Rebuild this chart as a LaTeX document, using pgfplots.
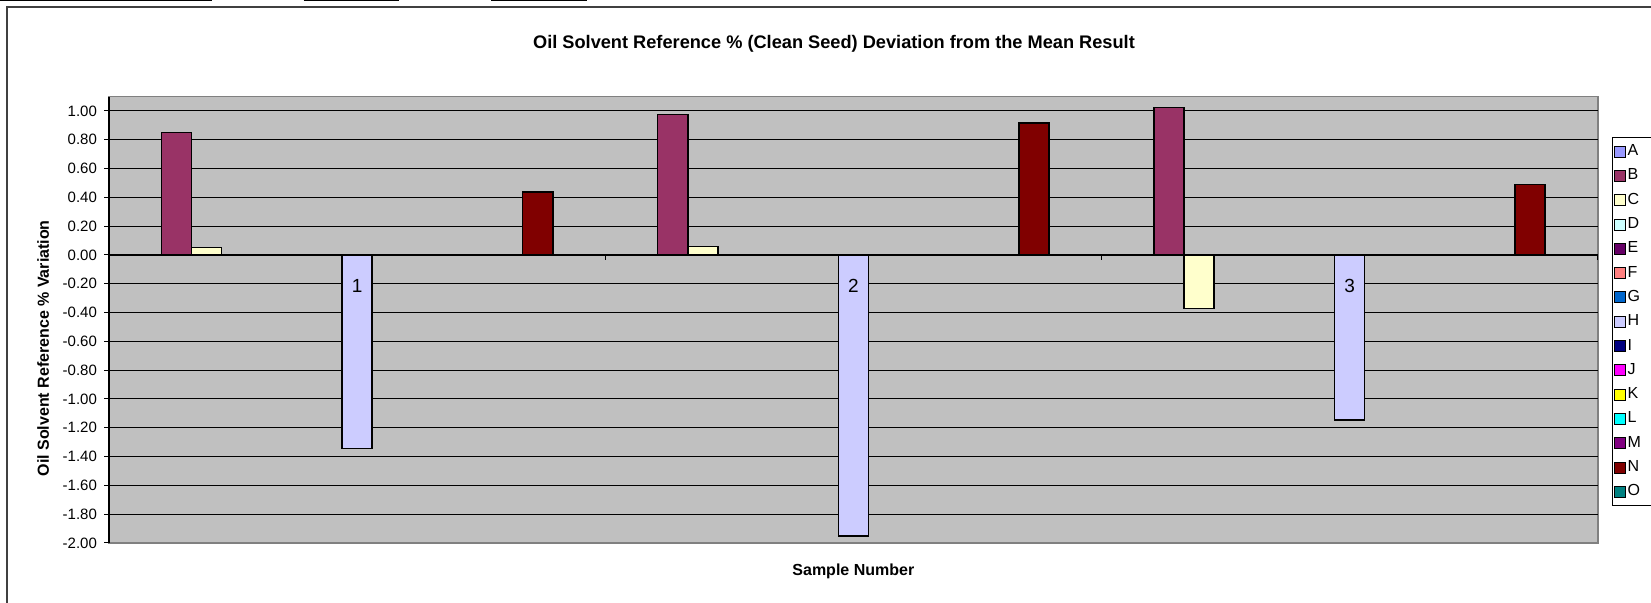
\documentclass[border=0pt]{standalone}
\usepackage{fontspec}
\setmainfont{Liberation Sans}
\usepackage{pgfplots}
\pgfplotsset{compat=1.18}
\definecolor{cA}{HTML}{9999FF}
\definecolor{cB}{HTML}{993366}
\definecolor{cC}{HTML}{FFFFCC}
\definecolor{cD}{HTML}{CCFFFF}
\definecolor{cE}{HTML}{660066}
\definecolor{cF}{HTML}{FF8080}
\definecolor{cG}{HTML}{0066CC}
\definecolor{cH}{HTML}{CCCCFF}
\definecolor{cI}{HTML}{000080}
\definecolor{cJ}{HTML}{FF00FF}
\definecolor{cK}{HTML}{FFFF00}
\definecolor{cL}{HTML}{00FFFF}
\definecolor{cM}{HTML}{800080}
\definecolor{cN}{HTML}{800000}
\definecolor{cO}{HTML}{008080}
\definecolor{plotgray}{HTML}{C0C0C0}
\definecolor{plotborder}{HTML}{808080}
\pgfplotsset{layers/mylayers/.define layer set={axis background,axis grid,axis ticks,pre main,main,axis lines,axis tick labels,axis descriptions,axis foreground}{ticklabel style={/pgfplots/on layer=axis tick labels}}}
\begin{document}
\begin{tikzpicture}
\draw[black!75, line width=1pt] (3.5pt,-5pt) -- (3.5pt,298.15pt) -- (840pt,298.15pt);
\draw[black, line width=0.6pt] (0pt,301.1pt) -- (105.8pt,301.1pt);
\draw[black, line width=0.6pt] (151.75pt,301.1pt) -- (199.5pt,301.1pt);
\draw[black, line width=0.6pt] (245.5pt,301.1pt) -- (293.35pt,301.1pt);
\begin{axis}[
  set layers=mylayers,
  at={(54.5pt,30pt)}, anchor=south west,
  scale only axis, width=744.35pt, height=223.2pt,
  xmin=-0.5, xmax=2.5, ymin=-2, ymax=1.1,
  axis x line=middle, axis y line=left,
  axis line style={-},
  x axis line style={black, line width=0.8pt},
  y axis line style={black, line width=0.6pt},
  axis background/.style={fill=plotgray, draw=plotborder, line width=0.8pt},
  ytick={-1.8,-1.6,-1.4,-1.2,-1,-0.8,-0.6,-0.4,-0.2,0,0.2,0.4,0.6,0.8,1},
  yticklabels={-1.80,-1.60,-1.40,-1.20,-1.00,-0.80,-0.60,-0.40,-0.20,0.00,0.20,0.40,0.60,0.80,1.00},
  extra y ticks={-2}, extra y tick labels={-2.00},
  extra y tick style={grid=none},
  ymajorgrids, grid style={black, line width=0.5pt},
  tick align=outside, major tick length=2.5pt, minor tick length=2.5pt,
  tick style={black, line width=0.5pt},
  hide obscured x ticks=false,
  xtick={0,1,2}, xticklabels={1,2,3},
  minor xtick={-0.5,0.5,1.5,2.5},
  xticklabel style={font=\fontsize{9.5}{11}\selectfont, anchor=center, yshift=-12.8pt},
  yticklabel style={font=\fontsize{7.5}{9}\selectfont},
  title={Oil Solvent Reference \% (Clean Seed) Deviation from the Mean Result},
  title style={at={(axis description cs:0.487,1.091)}, anchor=center, font=\bfseries\fontsize{9.1}{11}\selectfont},
  xlabel={Sample Number},
  ylabel={Oil Solvent Reference \% Variation},
  every axis x label/.style={at={(axis description cs:0.5,-0.0643)}, anchor=center, font=\bfseries\fontsize{8}{10}\selectfont},
  every axis y label/.style={at={(axis description cs:-0.0443,0.436)}, anchor=center, rotate=90, font=\bfseries\fontsize{8}{10}\selectfont},
  legend style={at={(axis description cs:1.0096,0.9095)}, anchor=north west, draw=black, line width=0.5pt, fill=white,
    inner sep=1pt, row sep=0pt,
    nodes={inner sep=0.6pt, minimum height=12.15pt, font=\fontsize{8}{9.5}\selectfont}},
  legend cell align=left,
  legend image code/.code={\draw[#1, line width=0.5pt] (0pt,-2.75pt) rectangle (5.5pt,2.75pt);},
]
\addplot[ybar, bar width=15.05pt, bar shift=-90.3pt, fill=cB, draw=black, line width=0.75pt, forget plot]
  coordinates {(0,0.852) (1,0.977) (2,1.026)};
\addplot[ybar, bar width=15.05pt, bar shift=-75.25pt, fill=cC, draw=black, line width=0.75pt, forget plot]
  coordinates {(0,0.051) (1,0.058) (2,-0.371)};
\addplot[ybar, bar width=15.05pt, bar shift=0pt, fill=cH, draw=black, line width=0.75pt, forget plot]
  coordinates {(0,-1.345) (1,-1.951) (2,-1.146)};
\addplot[ybar, bar width=15.05pt, bar shift=90.3pt, fill=cN, draw=black, line width=0.75pt, forget plot]
  coordinates {(0,0.437) (1,0.915) (2,0.488)};
\addlegendimage{fill=cA, draw=black}\addlegendentry{\makebox[22pt][l]{A}}
\addlegendimage{fill=cB, draw=black}\addlegendentry{B}
\addlegendimage{fill=cC, draw=black}\addlegendentry{C}
\addlegendimage{fill=cD, draw=black}\addlegendentry{D}
\addlegendimage{fill=cE, draw=black}\addlegendentry{E}
\addlegendimage{fill=cF, draw=black}\addlegendentry{F}
\addlegendimage{fill=cG, draw=black}\addlegendentry{G}
\addlegendimage{fill=cH, draw=black}\addlegendentry{H}
\addlegendimage{fill=cI, draw=black}\addlegendentry{I}
\addlegendimage{fill=cJ, draw=black}\addlegendentry{J}
\addlegendimage{fill=cK, draw=black}\addlegendentry{K}
\addlegendimage{fill=cL, draw=black}\addlegendentry{L}
\addlegendimage{fill=cM, draw=black}\addlegendentry{M}
\addlegendimage{fill=cN, draw=black}\addlegendentry{N}
\addlegendimage{fill=cO, draw=black}\addlegendentry{O}
\end{axis}
\pgfresetboundingbox
\useasboundingbox (0,0) rectangle (825.5pt,301.5pt);
\end{tikzpicture}
\end{document}
